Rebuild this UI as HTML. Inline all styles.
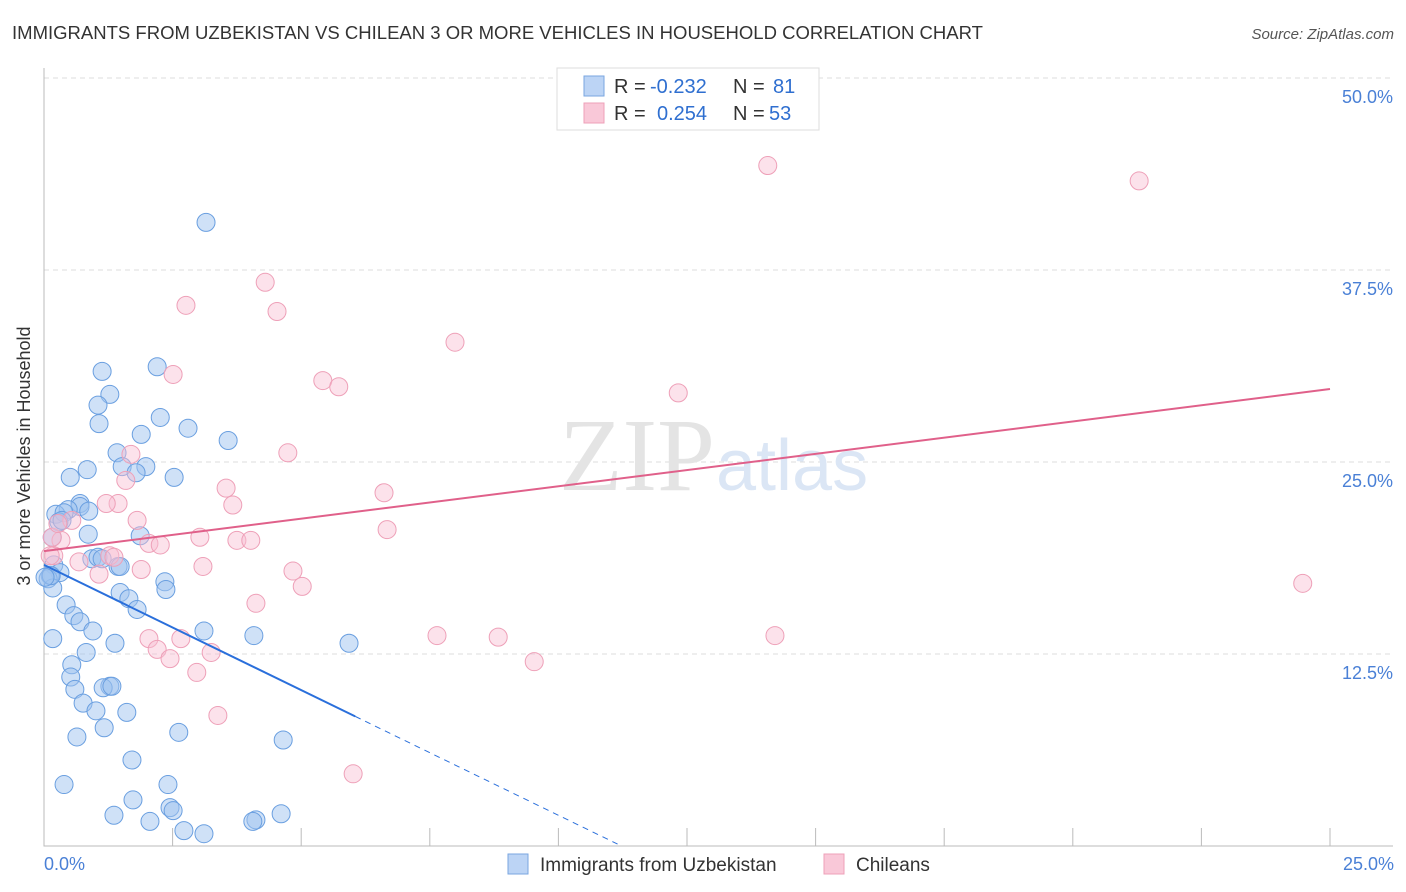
<!DOCTYPE html>
<html><head><meta charset="utf-8"><style>
body{margin:0;background:#fff;font-family:"Liberation Sans",sans-serif}
svg{display:block}
</style></head><body>
<svg id="chart" width="1406" height="892">
<text x="12" y="39" font-size="18" fill="#333" textLength="971" lengthAdjust="spacingAndGlyphs">IMMIGRANTS FROM UZBEKISTAN VS CHILEAN 3 OR MORE VEHICLES IN HOUSEHOLD CORRELATION CHART</text>
<text x="1394" y="39" font-size="15" fill="#555" text-anchor="end" font-style="italic">Source: ZipAtlas.com</text>
<text x="30" y="456" font-size="18" fill="#333" text-anchor="middle" transform="rotate(-90 30 456)">3 or more Vehicles in Household</text>
<g id="grid"></g>
<text x="715" y="490" font-size="104" fill="#e4e4e4" text-anchor="end" font-family="Liberation Serif,serif">ZIP</text>
<text x="716" y="490" font-size="72" fill="#dbe6f5">atlas</text>
<g id="pts"></g>
<g id="lines"></g>
<g>
<rect x="557" y="68" width="262" height="62" fill="#fff" stroke="#ddd"/>
<rect x="584" y="76" width="20" height="20" fill="#bcd4f5" stroke="#7aa6e0"/>
<rect x="584" y="103" width="20" height="20" fill="#f9c8d8" stroke="#eea0b8"/>
<text x="614" y="93" font-size="20" fill="#333">R = <tspan x="650" fill="#2f6fd0">-0.232</tspan><tspan x="733">N = </tspan><tspan x="773" fill="#2f6fd0">81</tspan></text>
<text x="614" y="120" font-size="20" fill="#333">R = <tspan x="657" fill="#2f6fd0">0.254</tspan><tspan x="733">N = </tspan><tspan x="769" fill="#2f6fd0">53</tspan></text>
</g>
<text x="44" y="870" font-size="18" fill="#4a80d6">0.0%</text>
<text x="1394" y="870" font-size="18" fill="#4a80d6" text-anchor="end">25.0%</text>
<g>
<rect x="508" y="854" width="20" height="20" fill="#bcd4f5" stroke="#7aa6e0"/>
<text x="540" y="871" font-size="19" fill="#333">Immigrants from Uzbekistan</text>
<rect x="824" y="854" width="20" height="20" fill="#f9c8d8" stroke="#eea0b8"/>
<text x="856" y="871" font-size="19" fill="#333">Chileans</text>
</g>
</svg>
<script>
const yTicks=[12.5,25,37.5,50];
const yTickLabels=["12.5%","25.0%","37.5%","50.0%"];
const blueX=[3.15,2.20,1.13,1.28,1.05,2.26,1.07,2.80,1.89,3.58,1.42,1.52,1.98,1.79,0.84,0.51,2.53,0.70,0.70,0.47,0.23,0.87,0.39,0.29,0.86,1.87,0.16,0.93,1.05,1.13,1.44,1.48,0.19,0.31,0.12,0.08,0.17,2.35,2.37,1.48,1.65,1.81,0.43,0.58,0.70,0.95,3.11,4.08,0.17,1.38,5.93,0.82,0.54,0.52,0.60,1.28,1.15,1.32,0.76,1.01,1.61,1.17,0.64,2.62,4.65,1.71,0.39,2.41,1.73,1.36,2.45,2.51,4.12,4.61,2.06,2.72,3.11,4.06,0.14,0.35,0.02];
const blueY=[40.6,31.2,30.9,29.4,28.7,27.9,27.5,27.2,26.8,26.4,25.6,24.7,24.7,24.3,24.5,24.0,24.0,22.3,22.1,21.9,21.6,21.8,21.7,21.1,20.3,20.2,20.1,18.7,18.8,18.7,18.2,18.2,18.3,17.8,17.6,17.4,16.8,17.2,16.7,16.5,16.1,15.4,15.7,15.0,14.6,14.0,14.0,13.7,13.5,13.2,13.2,12.6,11.8,11.0,10.2,10.4,10.3,10.4,9.3,8.8,8.7,7.7,7.1,7.4,6.9,5.6,4.0,4.0,3.0,2.0,2.5,2.3,1.7,2.1,1.6,1.0,0.8,1.6,17.6,21.2,17.5];
const pinkX=[14.07,21.29,4.30,2.76,4.53,7.99,2.51,5.42,5.73,12.33,1.69,4.74,1.59,3.54,6.61,1.44,1.21,3.67,1.81,0.54,6.67,3.03,2.04,2.26,3.75,4.02,0.33,0.16,0.19,1.28,0.68,1.36,3.09,1.89,4.84,1.07,5.02,4.12,2.04,2.66,7.64,8.83,14.21,2.20,3.25,2.45,2.97,9.53,3.38,24.47,6.01,0.12,0.27];
const pinkY=[44.3,43.3,36.7,35.2,34.8,32.8,30.7,30.3,29.9,29.5,25.5,25.6,23.8,23.3,23.0,22.3,22.3,22.2,21.2,21.2,20.6,20.1,19.7,19.6,19.9,19.9,19.9,20.1,18.9,18.9,18.5,18.8,18.2,18.0,17.9,17.7,16.9,15.8,13.5,13.5,13.7,13.6,13.7,12.8,12.6,12.2,11.3,12.0,8.5,17.1,4.7,18.9,21.0];
const blueTrend=[18.3,-1.63];
const pinkTrend=[19.2,0.422];
const NS="http://www.w3.org/2000/svg";
const sx=v=>44+v/25*1286, sy=v=>846-v/12.5*192;
function mk(t,a,p){const e=document.createElementNS(NS,t);for(const k in a)e.setAttribute(k,a[k]);p.appendChild(e);return e;}
const grid=document.getElementById('grid');
yTicks.forEach((t,i)=>{
 const l=mk('line',{x1:44,x2:1393,y1:sy(t),y2:sy(t),stroke:'#ddd','stroke-dasharray':'5,4'},grid);
 
 
 const tx=mk('text',{x:1393,y:sy(t)+25,'font-size':18,fill:'#4a80d6','text-anchor':'end'},grid);
 tx.textContent=yTickLabels[i];
 
 
});
const ax=mk('path',{d:'M44 68V846H1393',fill:'none',stroke:'#bbb'},grid);


for(let i=0;i<=10;i++){const v=i*2.5;const t=mk('line',{x1:sx(v),x2:sx(v),y1:828,y2:846,stroke:'#bbb'},grid);
 
 }
const pts=document.getElementById('pts');
blueX.forEach((x,i)=>{const c=mk('circle',{cx:sx(x),cy:sy(blueY[i]),r:9,fill:'rgba(160,196,240,0.5)',stroke:'#6a9fe0','stroke-width':1},pts);
 
 });
pinkX.forEach((x,i)=>{const c=mk('circle',{cx:sx(x),cy:sy(pinkY[i]),r:9,fill:'rgba(248,190,210,0.45)',stroke:'#eea0b8','stroke-width':1},pts);
 
 });
const lines=document.getElementById('lines');
const bl=mk('line',{x1:sx(0),y1:sy(blueTrend[0]),x2:sx(6.05),y2:sy(blueTrend[0]+blueTrend[1]*6.05),stroke:'#2a6fdb','stroke-width':2},lines);


const bd=mk('line',{x1:sx(6.05),y1:sy(blueTrend[0]+blueTrend[1]*6.05),x2:sx(11.15),y2:sy(blueTrend[0]+blueTrend[1]*11.15),stroke:'#2a6fdb','stroke-width':1,'stroke-dasharray':'6,5'},lines);


const pl=mk('line',{x1:sx(0),y1:sy(pinkTrend[0]),x2:sx(25),y2:sy(pinkTrend[0]+pinkTrend[1]*25),stroke:'#e0608a','stroke-width':2},lines);


</script>
</body></html>
